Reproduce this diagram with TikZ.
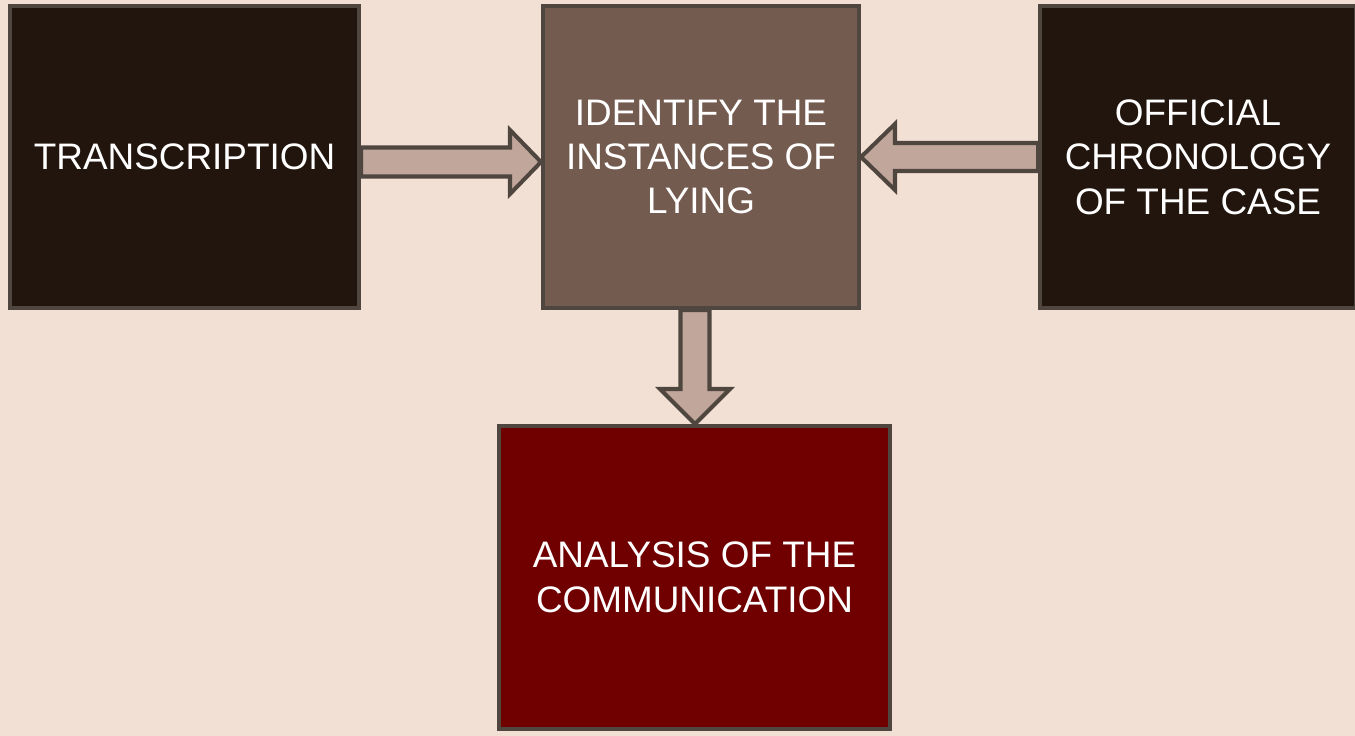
\documentclass[tikz,border=0pt]{standalone}
\usepackage{fontspec}
\setmainfont{Liberation Sans}
\usetikzlibrary{calc}
\definecolor{pagebg}{HTML}{F2E0D5}
\definecolor{boxline}{HTML}{4F463F}
\definecolor{darkbox}{HTML}{22150E}
\definecolor{midbox}{HTML}{745B50}
\definecolor{redbox}{HTML}{700000}
\definecolor{arrowfill}{HTML}{C0A69B}
\tikzset{
    stepbox/.style={draw=boxline, line width=2.3pt, text=white, align=center,
        font=\fontsize{21}{25.3}\selectfont, minimum height=6.04cm, inner sep=0pt},
    bigarrow/.style={draw=boxline, fill=arrowfill, line width=2.3pt}
}

\begin{document}
\begin{tikzpicture}[x=0.02cm, y=-0.02cm]
    \fill[pagebg] (0,0) rectangle (1355,736);
    \useasboundingbox (0,0) rectangle (1355,736);

    \node[stepbox, fill=darkbox, minimum width=6.98cm] (trans) at (184.5,157) {TRANSCRIPTION};
    \node[stepbox, fill=midbox, minimum width=6.32cm] (ident) at (701,157) {IDENTIFY THE\\INSTANCES OF\\LYING};
    \node[stepbox, fill=darkbox, minimum width=6.32cm] (chrono) at (1198,157) {OFFICIAL\\CHRONOLOGY\\OF THE CASE};
    \node[stepbox, fill=redbox, minimum width=7.82cm, minimum height=6.06cm] (anl) at (694.5,577.5) {ANALYSIS OF THE\\COMMUNICATION};

    % transcription -> identify
    \coordinate (a1) at ($(trans.east)+(0,5)$);
    \coordinate (t1) at ($(ident.west)+(0,5)$);
    \draw[bigarrow] ($(a1)+(0,-14.5)$) -- ($(t1)+(-31,-14.5)$) -- ($(t1)+(-31,-32)$) -- (t1)
        -- ($(t1)+(-31,32)$) -- ($(t1)+(-31,14.5)$) -- ($(a1)+(0,14.5)$) -- cycle;

    % chronology -> identify
    \coordinate (a2) at (chrono.west);
    \coordinate (t2) at (ident.east);
    \draw[bigarrow] ($(a2)+(0,-14)$) -- ($(t2)+(34,-14)$) -- ($(t2)+(34,-33)$) -- (t2)
        -- ($(t2)+(34,33)$) -- ($(t2)+(34,14)$) -- ($(a2)+(0,14)$) -- cycle;

    % identify -> analysis
    \coordinate (a3) at ($(ident.south)+(-6,0)$);
    \coordinate (t3) at (a3 |- anl.north);
    \draw[bigarrow] ($(a3)+(-14.5,0)$) -- ($(t3)+(-14.5,-35)$) -- ($(t3)+(-35,-35)$) -- (t3)
        -- ($(t3)+(35,-35)$) -- ($(t3)+(14.5,-35)$) -- ($(a3)+(14.5,0)$) -- cycle;
\end{tikzpicture}
\end{document}
